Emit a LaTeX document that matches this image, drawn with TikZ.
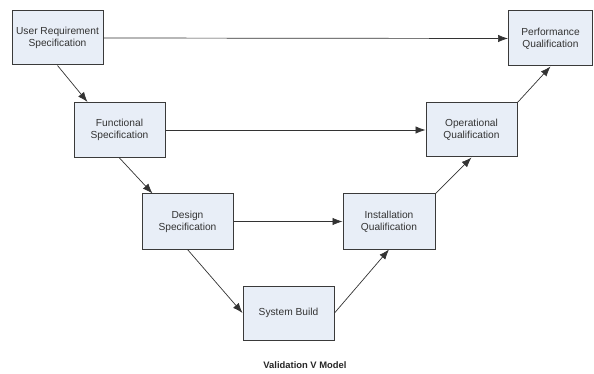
\documentclass[tikz,border=0pt]{standalone}
\usepackage{fontspec}
\setmainfont{Liberation Sans}
\usetikzlibrary{arrows.meta}
\definecolor{boxfill}{HTML}{E8EEF7}
\definecolor{boxline}{HTML}{3A3A3A}
\definecolor{txt}{HTML}{333333}
\tikzset{
  stage/.style={draw=boxline, line width=1pt, fill=boxfill, minimum width=91pt, minimum height=54pt,
    inner sep=0pt, align=center, text=txt, font=\fontsize{10.2}{12}\selectfont},
  link/.style={draw=black!80, line width=0.7pt, -{Latex[length=10pt,width=7.5pt]}}
}
\begin{document}
\begin{tikzpicture}[x=1pt,y=-1pt]
\useasboundingbox (0,0) rectangle (594,374);
\node[stage] (urs) at (57.5,38) {User Requirement\\Specification};
\node[stage, minimum height=55pt] (fs) at (119.5,130) {Functional\\Specification};
\node[stage, minimum height=55pt] (ds) at (187.5,221.5) {Design\\Specification};
\node[stage] (sb) at (288.5,313) {System Build};
\node[stage, minimum width=92pt, minimum height=55pt] (iq) at (389,221.5) {Installation\\Qualification};
\node[stage] (oq) at (471.5,130) {Operational\\Qualification};
\node[stage, minimum width=84pt, minimum height=55pt] (pq) at (550.5,38.5) {Performance\\Qualification};
\node[font=\bfseries\fontsize{9.4}{11}\selectfont, text=black!85] (title) at (305,365) {Validation V Model};

\draw[link] (urs.east) -- (pq.west);
\draw[link] (fs.east) -- (oq.west);
\draw[link] (ds.east) -- (iq.west);
\draw[link] (urs.south) -- ([xshift=14pt]fs.north west);
\draw[link] (fs.south) -- ([xshift=11pt]ds.north west);
\draw[link] (ds.south) -- (sb.west);
\draw[link] (sb.east) -- (iq.south);
\draw[link] (iq.north east) -- (oq.south);
\draw[link] (oq.north east) -- (pq.south);
\end{tikzpicture}
\end{document}
